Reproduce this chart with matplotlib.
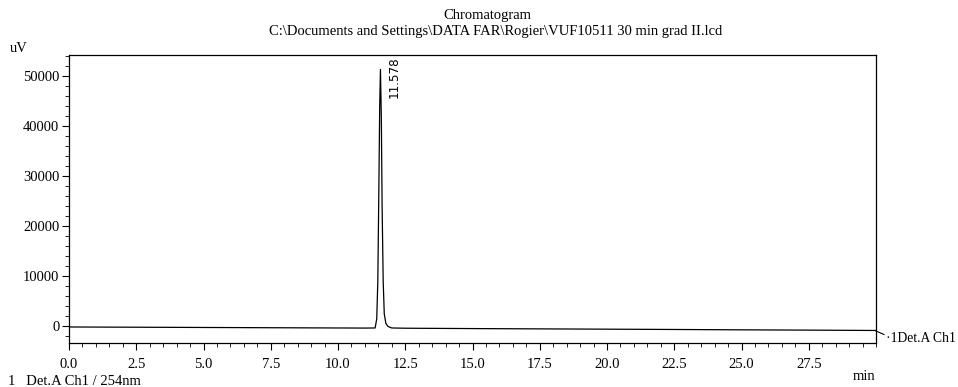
import matplotlib
matplotlib.use("Agg")
import matplotlib.pyplot as plt
from matplotlib.ticker import MultipleLocator, FormatStrFormatter

# 读图得到的色谱数据 (min, uV)
time_min = [0.0, 2.5, 5.0, 7.5, 10.0, 11.0, 11.38, 11.44, 11.48, 11.52, 11.55,
            11.578, 11.61, 11.64, 11.68, 11.72, 11.78, 11.86, 12.0, 12.5,
            15.0, 17.5, 20.0, 22.5, 25.0, 27.5, 30.0]
signal_uv = [-100, -150, -200, -250, -300, -320, -300, 1500, 9000, 28000, 44000,
             51300, 42000, 24000, 9000, 2500, 600, 0, -300, -350,
             -420, -480, -540, -600, -670, -730, -800]

peak_time = 11.578
peak_height = 51300
x_ticks = [0.0, 2.5, 5.0, 7.5, 10.0, 12.5, 15.0, 17.5, 20.0, 22.5, 25.0, 27.5]
y_ticks = [0, 10000, 20000, 30000, 40000, 50000]

plt.rcParams.update({
    "font.family": ["Liberation Serif", "DejaVu Serif"],
    "font.size": 10.5,
})

fig = plt.figure(figsize=(9.58, 3.87), dpi=100)
ax = fig.add_axes([69 / 958, 1 - 343 / 387, (876 - 69) / 958, (343 - 55) / 387])

ax.plot(time_min, signal_uv, color="black", linewidth=0.9)

ax.set_xlim(0, 30)
ax.set_ylim(-3300, 54200)
ax.set_xticks(x_ticks)
ax.set_yticks(y_ticks)
ax.xaxis.set_major_formatter(FormatStrFormatter("%.1f"))
ax.xaxis.set_minor_locator(MultipleLocator(0.5))
ax.yaxis.set_minor_locator(MultipleLocator(2000))
ax.tick_params(which="major", length=5, width=0.8, direction="out", pad=2)
ax.tick_params(which="minor", length=3, width=0.6, direction="out")
ax.tick_params(axis="x", pad=6)
for s in ax.spines.values():
    s.set_linewidth(0.9)

# 峰标注
ax.text(peak_time + 0.25, peak_height - 1500, "11.578", rotation=90,
        ha="left", va="center", fontsize=9.5,
        family=["DejaVu Sans"], fontstretch="condensed")

# 标题
fig.text(487 / 958, 1 - 15 / 387, "Chromatogram", ha="center", va="center")
fig.text(496 / 958, 1 - 31 / 387,
         r"C:\Documents and Settings\DATA FAR\Rogier\VUF10511 30 min grad II.lcd",
         ha="center", va="center")
fig.text(10 / 958, 1 - 48 / 387, "uV", ha="left", va="center")
fig.text(875 / 958, 1 - 377 / 387, "min", ha="right", va="center")

# 通道标签
fig.add_artist(plt.Line2D([876 / 958, 884 / 958], [1 - 331 / 387, 1 - 334.5 / 387],
                          color="black", linewidth=0.8))
fig.text(886 / 958, 1 - 338 / 387, "\u00b71Det.A Ch1", ha="left", va="center",
         fontsize=9.8)
fig.text(8 / 958, 1 - 385 / 387, "1   Det.A Ch1 / 254nm", ha="left", va="baseline")

fig.savefig("out.png", dpi=100)
